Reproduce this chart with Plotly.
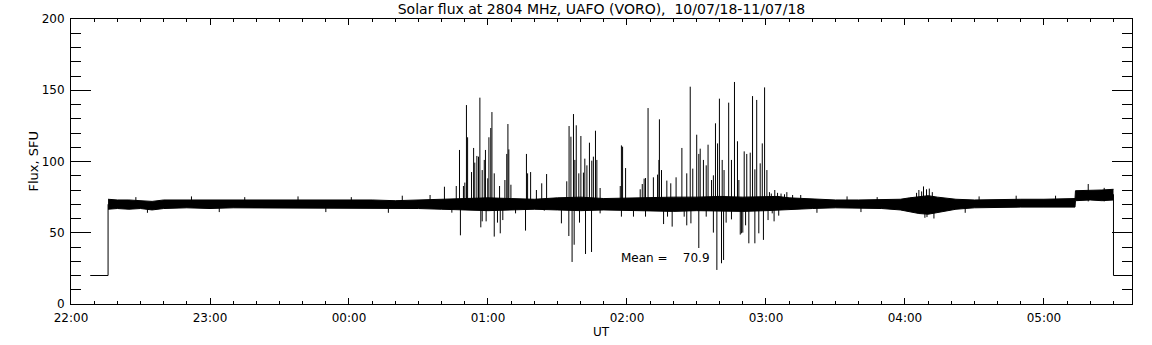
import plotly.graph_objects as go

# ---- data (minutes after 22:00 UT, flux in SFU) ----
tick_minutes = [0, 60, 120, 180, 240, 300, 360, 420]
tick_labels = ["22:00", "23:00", "00:00", "01:00", "02:00", "03:00", "04:00", "05:00"]

# flat "no signal" level at start and end of the record
start_t = [8.3, 16.0, 16.0]
start_v = [20, 20, 70]
end_t = [450.0, 450.0, 458.0]
end_v = [77, 20, 20]

# envelope of the dense noise band
band_t = [16, 20, 25, 30, 35, 40, 50, 60, 70, 80, 90, 100, 110, 120, 130, 140, 150,
          160, 170, 180, 190, 200, 210, 220, 230, 240, 250, 260, 270, 280, 290, 300,
          305, 310, 320, 330, 340, 350, 358, 362, 366, 370, 374, 378, 382, 390, 400,
          410, 420, 430, 433.4, 433.6, 440, 445, 450]
band_hi = [73.5, 73, 73, 72.5, 72, 73, 73, 73, 73.5, 73, 73, 73, 73, 73,
           73, 72.5, 73, 73.5, 74.5, 74.5, 74, 73.5, 74.5, 75, 74, 74.5, 75, 75, 75,
           75.5, 75, 75, 75.5, 74.5, 73.5, 73, 73, 73, 73.5, 74.5, 75.5, 76, 75, 74,
           73.5, 73, 73.5, 73.5, 73.5, 74, 74, 79.5, 79.5, 80, 80.5]
band_lo = [66.5, 67, 66.5, 67, 66, 67, 67.5, 67, 67.5, 67.5, 67, 67.5, 67.5, 67.5, 67,
           67.5, 67, 66.5, 66, 65.5, 66, 66.5, 66, 65.5, 66, 65.5, 65.5, 65, 65.5, 65,
           65, 65.5, 66, 66.5, 67, 67.5, 67.5, 67, 66, 64.5, 63.5, 63, 64, 65.5, 66.5,
           67.5, 68, 68, 68, 68, 68, 72.5, 73, 72.5, 73]

# upward bursts: time (min) and peak flux
up_t = [161.2, 166.3, 167.7, 169.4, 170.0, 170.7, 171.2, 172.9, 173.8, 174.3, 175.2,
        175.9, 176.5, 177.5, 178.4, 178.9, 179.9, 180.4, 181.2, 181.7, 182.7, 185.0,
        187.3, 188.1, 188.6, 189.0, 189.9, 196.6, 197.1, 198.4, 200.9, 203.2, 205.3,
        214.0, 215.0, 215.8, 216.9, 217.5, 218.1, 219.2, 220.1, 221.2, 221.8, 222.7,
        223.8, 224.8, 225.5, 226.4, 227.0, 228.4, 237.1, 237.6, 238.1, 239.4, 245.7,
        246.6, 247.4, 248.0, 249.1, 251.4, 253.2, 253.8, 254.0, 254.9, 257.2, 258.9,
        261.2, 263.7, 265.8, 267.3, 268.4, 270.1, 271.0, 271.6, 273.0, 274.2, 275.0,
        276.5, 277.3, 278.2, 279.1, 279.9, 281.1, 281.9, 283.9, 285.1, 286.4, 287.7,
        288.3, 290.6, 291.7, 293.2, 294.2, 295.2, 296.0, 297.5, 298.4, 299.4, 300.4,
        303.8, 301.5, 302.3, 305.0, 306.5, 308.0, 309.0, 311.5, 315.0,
        365.0, 366.0, 367.2, 368.0, 369.3, 370.5, 371.8, 439.1, 446.0,
        28.0, 52.0, 75.0, 98.0, 121.0, 143.0, 155.0, 335.0, 348.0, 392.0, 408.0, 425.0]
up_v = [82.3, 82.8, 108.1, 82.8, 85.2, 139.6, 117.0, 92.6, 109.5, 99.2, 103.9, 103.4,
        144.8, 94.0, 101.1, 108.1, 88.2, 117.0, 123.5, 134.7, 91.7, 82.8, 87.0, 105.3,
        126.3, 108.5, 83.7, 105.3, 91.7, 92.6, 80.0, 84.7, 91.2, 86.1, 124.9, 117.4,
        133.3, 101.1, 125.4, 91.7, 117.9, 92.2, 102.0, 97.3, 113.2, 100.6, 103.4, 121.6,
        101.1, 81.4, 82.8, 111.3, 110.4, 95.4, 80.5, 84.2, 88.0, 88.4, 137.5, 88.9, 90.8,
        101.1, 129.6, 94.0, 86.6, 84.7, 88.9, 109.5, 91.7, 152.5, 95.0, 118.8, 105.3,
        109.0, 101.1, 97.3, 111.8, 87.0, 90.3, 126.8, 112.7, 144.1, 101.1, 94.0, 141.3,
        101.1, 155.8, 114.2, 87.0, 107.1, 105.3, 106.2, 145.9, 94.5, 143.2, 98.7, 112.7,
        152.0, 94.0, 80.0, 78.5, 77.5, 78.0, 77.5, 77.0, 78.5, 76.5, 76.5,
        78.0, 80.0, 79.0, 82.5, 80.5, 81.0, 78.5, 84.2, 81.5,
        75.0, 75.5, 75.0, 75.5, 75.0, 76.0, 76.5, 75.5, 75.0, 75.5, 76.0, 76.0]

# downward dips: time (min) and minimum flux
down_t = [164.4, 168.1, 176.9, 177.5, 179.2, 182.7, 184.1, 185.3, 186.4, 191.9, 196.2,
          204.3, 211.7, 214.9, 216.3, 217.2, 219.5, 222.1, 224.7, 228.4, 237.6, 242.8,
          248.0, 255.8, 257.5, 259.5, 264.7, 265.8, 267.6, 271.0, 274.2, 277.3, 278.8,
          280.8, 281.7, 282.8, 285.1, 288.9, 289.4, 290.0, 291.2, 292.6, 295.2, 296.9,
          298.9, 300.9, 302.7, 303.5, 305.5, 368.6, 369.5, 372.5,
          33.0, 64.0, 110.0, 137.0, 322.0, 341.0, 386.0]
down_v = [64.1, 48.2, 53.8, 58.0, 58.0, 47.3, 57.1, 49.6, 58.9, 63.6, 51.5, 65.5, 56.6,
          47.7, 29.5, 41.6, 57.1, 35.1, 36.5, 63.6, 61.3, 61.3, 61.3, 56.1, 61.3, 54.3,
          61.3, 55.2, 56.6, 39.3, 61.3, 50.1, 23.9, 28.6, 30.9, 57.1, 59.4, 48.7, 49.6,
          50.1, 55.2, 42.6, 42.6, 49.6, 45.0, 58.9, 63.6, 58.0, 62.0, 60.5, 61.0, 60.0,
          64.0, 64.5, 64.5, 64.0, 64.0, 64.5, 64.0]

mean_value = 70.9

# ---- build figure ----
fig = go.Figure()

# noise band (filled between envelopes)
fig.add_trace(go.Scatter(x=band_t, y=band_hi, mode="lines",
                         line=dict(color="black", width=1), hoverinfo="skip"))
fig.add_trace(go.Scatter(x=band_t, y=band_lo, mode="lines", fill="tonexty",
                         fillcolor="black", line=dict(color="black", width=1),
                         hoverinfo="skip"))

# spikes as vertical segments
sx, sy = [], []
for t, v in zip(up_t, up_v):
    sx += [t, t, None]
    sy += [72, v, None]
for t, v in zip(down_t, down_v):
    sx += [t, t, None]
    sy += [68, v, None]
fig.add_trace(go.Scatter(x=sx, y=sy, mode="lines",
                         line=dict(color="black", width=1), hoverinfo="skip"))

fig.add_trace(go.Scatter(x=start_t, y=start_v, mode="lines",
                         line=dict(color="black", width=1), hoverinfo="skip"))
fig.add_trace(go.Scatter(x=end_t, y=end_v, mode="lines",
                         line=dict(color="black", width=1), hoverinfo="skip"))

font_family = "DejaVu Sans"

fig.update_layout(
    width=1152, height=345,
    margin=dict(l=71, r=20, t=19, b=41),
    paper_bgcolor="white", plot_bgcolor="white",
    showlegend=False,
    font=dict(family=font_family, size=12, color="black"),
    title=dict(text="Solar flux at 2804 MHz, UAFO (VORO),\u00a0\u00a010/07/18-11/07/18",
               x=0.5, xanchor="center", xref="paper",
               y=1 - 9 / 345, yref="container", yanchor="middle",
               font=dict(family=font_family, size=14, color="black")),
)

fig.update_xaxes(
    range=[0, 458], tickmode="array", tickvals=tick_minutes, ticktext=tick_labels,
    ticks="inside", ticklen=6, tickwidth=1, tickcolor="black",
    minor=dict(tickmode="linear", tick0=0, dtick=10, ticks="inside", ticklen=3,
               tickwidth=1, tickcolor="black"),
    showline=True, linecolor="black", linewidth=1, mirror="ticks",
    showgrid=False, zeroline=False, ticklabelstandoff=3,
    tickfont=dict(family=font_family, size=12),
)
fig.update_yaxes(
    range=[0, 200], tickmode="linear", tick0=0, dtick=50,
    ticks="inside", ticklen=20, tickwidth=1, tickcolor="black",
    minor=dict(tickmode="linear", tick0=0, dtick=10, ticks="inside", ticklen=10,
               tickwidth=1, tickcolor="black"),
    showline=True, linecolor="black", linewidth=1, mirror="ticks",
    showgrid=False, zeroline=False, ticklabelstandoff=3,
    tickfont=dict(family=font_family, size=12),
)

fig.add_annotation(text="UT", x=0.5, y=-28 / 285, xref="paper", yref="paper",
                   showarrow=False, xanchor="center", yanchor="middle",
                   font=dict(family=font_family, size=12))
fig.add_annotation(text="Flux, SFU", x=-38 / 1061, y=0.5, xref="paper", yref="paper",
                   textangle=-90, showarrow=False, xanchor="center", yanchor="middle",
                   font=dict(family=font_family, size=13))
fig.add_annotation(text="Mean =\u00a0\u00a0\u00a0\u00a0" + f"{mean_value:.1f}",
                   x=236.6, y=32, xref="x", yref="y", showarrow=False,
                   xanchor="left", yanchor="middle",
                   font=dict(family=font_family, size=12))

fig.write_html("out.html", config={"displayModeBar": False},
               post_script="document.body.style.margin='0';")
